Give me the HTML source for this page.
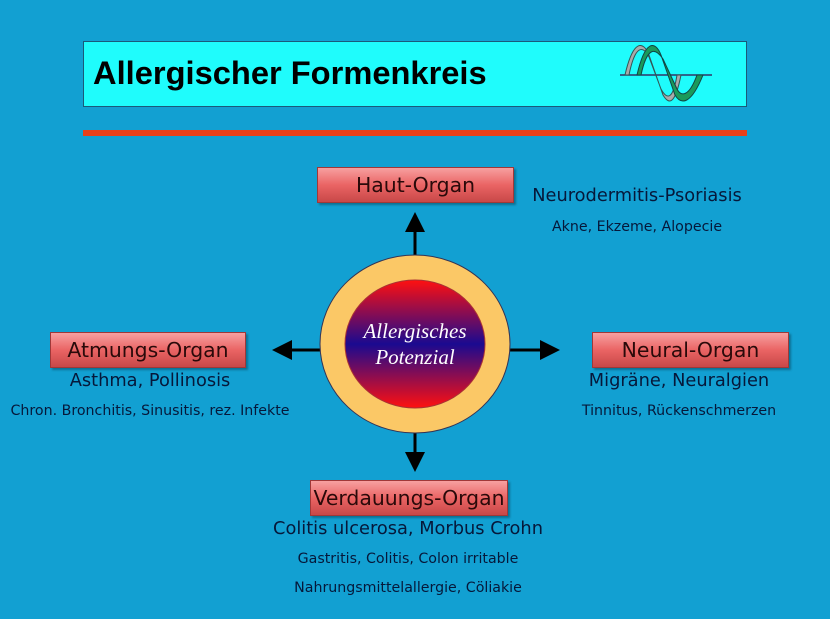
<!DOCTYPE html>
<html><head><meta charset="utf-8"><style>
body{margin:0;width:830px;height:619px;background:#12a0d2;position:relative;overflow:hidden;font-family:"DejaVu Sans","Liberation Sans",sans-serif}
.t{position:absolute;white-space:nowrap;color:#06183a}
.box{position:absolute;height:34px;background:linear-gradient(#f7a0a0,#ea6464 50%,#c84848);border:1px solid #a03838;box-shadow:2px 2px 2px rgba(0,0,0,.3);color:#2a0a0a;font-size:20.4px;text-align:center;line-height:34px}
.c{text-align:center;transform:translateX(-50%)}
.m{font-size:17.8px}
.s{font-size:14.2px}
</style></head><body>
<div style="position:absolute;left:83px;top:41px;width:662px;height:64px;background:#1ffcfc;border:1px solid #1a5a7a"></div>
<div class="t" style="left:93px;top:55px;font:bold 32px 'Liberation Sans',sans-serif;color:#000;transform:scaleX(1.02);transform-origin:left">Allergischer Formenkreis</div>
<svg style="position:absolute;left:615px;top:45px" width="105" height="60" viewBox="0 0 105 60">
<line x1="5" y1="30" x2="97" y2="30" stroke="#336" stroke-width="1.5"/>
<path d="M10,30 C18,-5 28,-5 34,10 L48,50 C54,60 60,60 66,30 L62,30 C58,55 52,55 46,44 L34,12 C28,0 20,0 14,30Z" fill="#aaa" stroke="#355"/>
<path d="M22,30 C30,-5 40,-5 46,10 L60,50 C66,60 76,60 88,30 L82,30 C74,52 66,52 62,44 L48,14 C40,2 32,2 26,30Z" fill="#1a9a5a" stroke="#144"/>
</svg>
<div style="position:absolute;left:83px;top:130px;width:664px;height:6px;background:#e8401a"></div>
<svg style="position:absolute;left:0;top:0" width="830" height="619">
<g stroke="#000" stroke-width="3" fill="#000">
<line x1="415" y1="256" x2="415" y2="230"/><polygon points="405,232 425,232 415,212" stroke="none"/>
<line x1="415" y1="432" x2="415" y2="455"/><polygon points="405,452 425,452 415,472" stroke="none"/>
<line x1="510" y1="350" x2="542" y2="350"/><polygon points="540,340 540,360 560,350" stroke="none"/>
<line x1="320" y1="350" x2="290" y2="350"/><polygon points="292,340 292,360 272,350" stroke="none"/>
</g>
<defs><linearGradient id="g" x1="0" y1="0" x2="0" y2="1"><stop offset="0" stop-color="#ff1010"/><stop offset=".5" stop-color="#1a0a90"/><stop offset="1" stop-color="#ff1010"/></linearGradient></defs>
<ellipse cx="415" cy="344" rx="95" ry="89" fill="#fbc866" stroke="#335" stroke-width="1"/>
<ellipse cx="415" cy="344" rx="70" ry="64" fill="url(#g)" stroke="#a33" stroke-width="1"/>
<text x="415" y="338" text-anchor="middle" font-family="Liberation Serif,serif" font-style="italic" font-size="21" fill="#fff">Allergisches</text>
<text x="415" y="364" text-anchor="middle" font-family="Liberation Serif,serif" font-style="italic" font-size="21" fill="#fff">Potenzial</text>
</svg>
<div class="box" style="left:317px;top:167px;width:195px">Haut-Organ</div>
<div class="box" style="left:50px;top:332px;width:194px">Atmungs-Organ</div>
<div class="box" style="left:592px;top:332px;width:195px">Neural-Organ</div>
<div class="box" style="left:310px;top:480px;width:196px">Verdauungs-Organ</div>
<div class="t c m" style="left:637px;top:185px">Neurodermitis-Psoriasis</div>
<div class="t c s" style="left:637px;top:219px">Akne, Ekzeme, Alopecie</div>
<div class="t c m" style="left:150px;top:370px">Asthma, Pollinosis</div>
<div class="t c s" style="left:150px;top:403px">Chron. Bronchitis, Sinusitis, rez. Infekte</div>
<div class="t c m" style="left:679px;top:370px">Migräne, Neuralgien</div>
<div class="t c s" style="left:679px;top:403px">Tinnitus, Rückenschmerzen</div>
<div class="t c m" style="left:408px;top:518px">Colitis ulcerosa, Morbus Crohn</div>
<div class="t c s" style="left:408px;top:551px">Gastritis, Colitis, Colon irritable</div>
<div class="t c s" style="left:408px;top:580px">Nahrungsmittelallergie, Cöliakie</div>
</body></html>
